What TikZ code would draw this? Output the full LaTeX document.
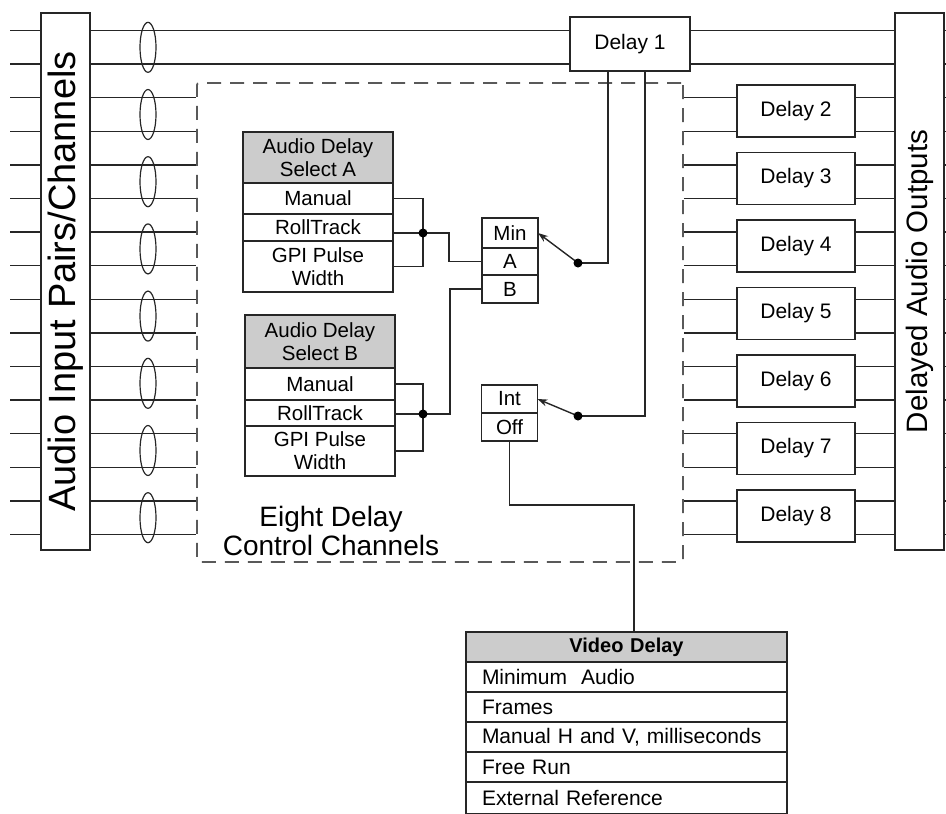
\documentclass[tikz,border=0pt]{standalone}
\usepackage{fontspec}
\setmainfont{Liberation Sans}
\usetikzlibrary{positioning, arrows.meta}

\begin{document}
\begin{tikzpicture}[x=1pt, y=-1pt, line width=1.4pt, draw=black!85]
        % Styles des noeuds
        \tikzstyle{bar} = [rectangle, draw, minimum width=49pt, minimum height=537pt, inner sep=0pt]
        \tikzstyle{delaybox} = [rectangle, draw, minimum width=118pt, minimum height=52pt, inner sep=0pt, outer sep=0pt, font=\fontsize{21}{23}\selectfont]
        \tikzstyle{head} = [rectangle, draw, fill=black!20, minimum width=150pt, inner sep=0pt, outer sep=0pt, align=center, font=\fontsize{20.5}{23}\selectfont]
        \tikzstyle{cell} = [rectangle, draw, minimum width=150pt, inner sep=0pt, outer sep=0pt, align=center, font=\fontsize{20.5}{23}\selectfont]
        \tikzstyle{swcell} = [rectangle, draw, minimum width=56pt, inner sep=0pt, outer sep=0pt, font=\fontsize{20.5}{22}\selectfont]
        \tikzstyle{vrow} = [rectangle, draw, minimum width=321pt, minimum height=30pt, text width=289pt, align=left, inner sep=0pt, outer sep=0pt, font=\fontsize{21}{23}\selectfont]
        \tikzstyle{arrow} = [-{Stealth[length=10pt, width=7pt]}]
        \tikzstyle{dot} = [circle, fill=black, inner sep=0pt, minimum size=9pt]

        \useasboundingbox (0,0) rectangle (946,814);

        % Barres d'entree et de sortie
        \node (inbar) [bar] at (65.5,281.5) {};
        \node (inlabel) [rotate=90, font=\fontsize{38}{40}\selectfont] at (inbar) {Audio Input Pairs/Channels};
        \node (outbar) [bar] at (919.5,281.5) {};
        \node (outlabel) [rotate=90, font=\fontsize{29.5}{32}\selectfont] at (outbar) {Delayed Audio Outputs};

        % Zone de controle
        \node (ctrl) [draw=black!65, line width=1.8pt, dash pattern=on 14pt off 9pt, rounded corners=2pt, minimum width=486pt, minimum height=479pt] at (440,322.5) {};
        \node (ctrllabel) [align=center, font=\fontsize{28}{29}\selectfont] at (331,531) {Eight Delay\\Control Channels};

        % Retards
        \node (delay1) [delaybox, minimum width=120pt, minimum height=54pt] at (630,44) {Delay 1};
        \node (delay2) [delaybox] at (796,111) {Delay 2};
        \node (delay3) [delaybox, below=15.5pt of delay2] {Delay 3};
        \node (delay4) [delaybox, below=15.5pt of delay3] {Delay 4};
        \node (delay5) [delaybox, below=15.5pt of delay4] {Delay 5};
        \node (delay6) [delaybox, below=15.5pt of delay5] {Delay 6};
        \node (delay7) [delaybox, below=15.5pt of delay6] {Delay 7};
        \node (delay8) [delaybox, below=15.5pt of delay7] {Delay 8};

        % Selection A
        \node (headA) [head, minimum height=51pt] at (318,157.5) {Audio Delay\\Select A};
        \node (manA) [cell, minimum height=31pt, below=0pt of headA] {Manual};
        \node (rollA) [cell, minimum height=27pt, below=0pt of manA] {RollTrack};
        \node (gpiA) [cell, minimum height=51pt, below=0pt of rollA] {GPI Pulse\\Width};

        % Selection B
        \node (headB) [head, minimum height=53pt] at (320,341.5) {Audio Delay\\Select B};
        \node (manB) [cell, minimum height=32pt, below=0pt of headB] {Manual};
        \node (rollB) [cell, minimum height=26pt, below=0pt of manB] {RollTrack};
        \node (gpiB) [cell, minimum height=50pt, below=0pt of rollB] {GPI Pulse\\Width};

        % Commutateurs
        \node (minr) [swcell, minimum height=30pt] at (510,233) {Min};
        \node (rowA) [swcell, minimum height=27pt, below=0pt of minr] {A};
        \node (rowB) [swcell, minimum height=28pt, below=0pt of rowA] {B};
        \node (intr) [swcell, minimum height=28pt] at (509.5,399) {Int};
        \node (offr) [swcell, minimum height=28pt, below=0pt of intr] {Off};

        % Video Delay
        \node (vhead) [vrow, fill=black!20, align=center, font=\bfseries\fontsize{20}{22}\selectfont] at (626.5,647) {Video Delay};
        \node (vmin) [vrow, below=0pt of vhead] {Minimum~ Audio};
        \node (vframes) [vrow, below=0pt of vmin] {Frames};
        \node (vmanual) [vrow, below=0pt of vframes] {Manual H and V, milliseconds};
        \node (vfree) [vrow, below=0pt of vmanual] {Free Run};
        \node (vext) [vrow, minimum height=32pt, below=0pt of vfree] {External Reference};

        % Lignes audio
        \foreach \i in {0,...,15} {
            \pgfmathsetmacro{\y}{30.5+33.6*\i}
            \coordinate (in\i) at (10,\y);
            \coordinate (out\i) at (946,\y);
            \draw (in\i) -- (in\i -| inbar.west);
            \draw (out\i -| outbar.east) -- (out\i);
        }
        \foreach \i in {0,1} {
            \draw (in\i -| inbar.east) -- (in\i -| delay1.west);
            \draw (in\i -| delay1.east) -- (in\i -| outbar.west);
        }
        \foreach \i in {2,...,15} {
            \pgfmathtruncatemacro{\k}{int(\i/2)+1}
            \draw (in\i -| inbar.east) -- (in\i -| ctrl.west);
            \draw (in\i -| ctrl.east) -- (in\i -| delay\k.west);
            \draw (in\i -| delay\k.east) -- (in\i -| outbar.west);
        }
        \foreach \j in {0,...,7} {
            \pgfmathsetmacro{\yc}{30.5+33.6*(2*\j+0.5)}
            \draw [line width=1.2pt] (148,\yc) ellipse [x radius=8pt, y radius=25pt];
        }

        % Jonctions
        \coordinate (jA) at (423,233);
        \coordinate (jB) at (423,414);
        \coordinate (s1) at (578,263);
        \coordinate (s2) at (578,416);
        \coordinate (bend) at (634,505);

        \draw (manA.east) -| (jA |- gpiA.east) -- (gpiA.east);
        \draw (rollA.east |- jA) -- (jA) -| ([xshift=-33pt]rowA.west) -- (rowA.west);
        \draw (manB.east) -| (jB |- gpiB.east) -- (gpiB.east);
        \draw (rollB.east |- jB) -- (jB);
        \draw (rowB.west) -- ++(-32,0) |- (jB);

        \draw [arrow] (s1) -- (minr.east);
        \draw [arrow] (s2) -- (intr.east);
        \draw (s1) -| ([xshift=-22pt]delay1.south);
        \draw (s2) -| ([xshift=15pt]delay1.south);
        \draw (offr.south) |- (bend) -- (bend |- vhead.north);

        \node (dA) [dot] at (jA) {};
        \node (dB) [dot] at (jB) {};
        \node (d1) [dot] at (s1) {};
        \node (d2) [dot] at (s2) {};
    \end{tikzpicture}
\end{document}
